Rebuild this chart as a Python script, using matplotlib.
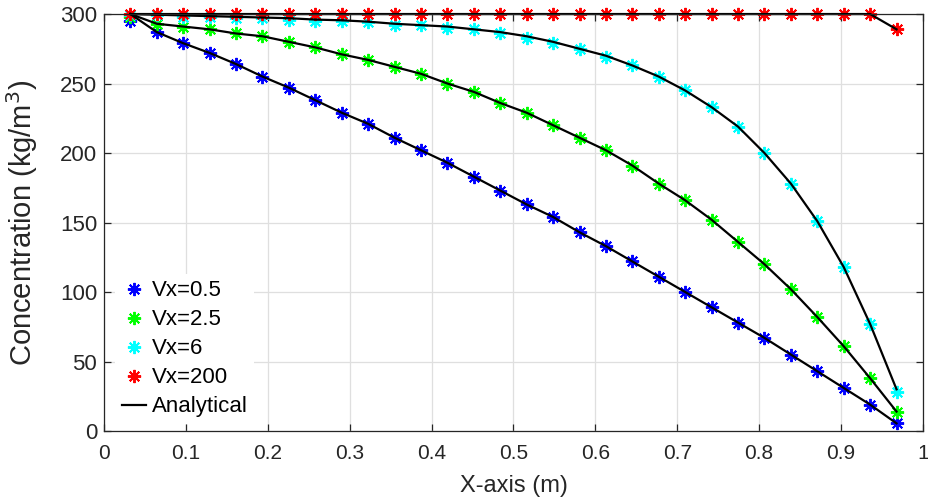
import matplotlib
matplotlib.use("Agg")
import matplotlib.pyplot as plt
import numpy as np

plt.rcParams['font.family'] = ['Liberation Sans', 'DejaVu Sans']

# grid points (30 cells)
x = [1/31, 2/31, 3/31, 4/31, 5/31, 6/31, 7/31, 8/31, 9/31, 10/31,
     11/31, 12/31, 13/31, 14/31, 15/31, 16/31, 17/31, 18/31, 19/31, 20/31,
     21/31, 22/31, 23/31, 24/31, 25/31, 26/31, 27/31, 28/31, 29/31, 30/31]

# numerical results
c_05 = [295, 287, 279, 272, 264, 255, 247, 238, 229, 221,
        211, 202, 193, 183, 173, 163, 154, 143, 133, 122,
        111, 100, 89, 78, 67, 55, 43, 31, 19, 5.5]
c_25 = [298, 293, 291, 289, 286, 284, 280, 276, 271, 267,
        262, 257, 250, 244, 236, 229, 220, 211, 202, 191,
        178, 166, 152, 136, 120, 102, 82, 61, 38, 14]
c_6 = [299, 299, 298, 298, 297, 297, 296, 295, 295, 294,
       292, 292, 290, 289, 286, 283, 279, 275, 269, 263,
       255, 245, 233, 219, 200, 178, 151, 118, 77, 28]
c_200 = [300, 300, 300, 300, 300, 300, 300, 300, 300, 300,
         300, 300, 300, 300, 300, 300, 300, 300, 300, 300,
         300, 300, 300, 300, 300, 300, 300, 300, 300, 289]

# analytical curves
a_05 = [300, 287, 279, 272, 264, 255, 247, 238, 229, 221,
        211, 202, 193, 183, 173, 163, 154, 143, 133, 122,
        111, 100, 89, 78, 67, 55, 43, 31, 19, 5.5]
a_25 = [300, 293, 291, 289, 286, 284, 280, 276, 271, 267,
        262, 257, 250, 244, 236, 229, 220, 211, 202, 191,
        178, 166, 152, 136, 120, 102, 82, 61, 38, 14]
a_6 = [300, 299.5, 299, 298.5, 298, 297.5, 297, 296, 295.5, 294.5,
       293, 292, 291, 289, 287, 284, 280, 275, 270, 263,
       255, 245, 233, 219, 200, 178, 151, 118, 77, 30]
a_200 = c_200

fig = plt.figure(figsize=(9.29, 5.03), dpi=100)
ax = fig.add_axes([0.1119, 0.1431, 0.8816, 0.829])

star = (8, 2, 0)
ms = 9.5
mew = 1.4
ax.plot(x, c_05, linestyle='none', marker=star, ms=ms, mew=mew, color='#0000ff', label='Vx=0.5', clip_on=False)
ax.plot(x, c_25, linestyle='none', marker=star, ms=ms, mew=mew, color='#00ff00', label='Vx=2.5', clip_on=False)
ax.plot(x, c_6, linestyle='none', marker=star, ms=ms, mew=mew, color='#00ffff', label='Vx=6', clip_on=False)
ax.plot(x, c_200, linestyle='none', marker=star, ms=ms, mew=mew, color='#ff0000', label='Vx=200', clip_on=False)

ax.plot(x, a_05, color='k', lw=1.6, label='Analytical', clip_on=False)
ax.plot(x, a_25, color='k', lw=1.6, clip_on=False)
ax.plot(x, a_6, color='k', lw=1.6, clip_on=False)
ax.plot(x, a_200, color='k', lw=1.6, clip_on=False)

ax.set_xlim(0, 1)
ax.set_ylim(0, 300)
ax.set_xticks(np.arange(0, 1.01, 0.1))
ax.set_xticklabels(['0', '0.1', '0.2', '0.3', '0.4', '0.5', '0.6', '0.7', '0.8', '0.9', '1'])
ax.set_yticks(np.arange(0, 301, 50))

ax.grid(True, color='#dfdfdf', lw=0.9)
ax.set_axisbelow(True)
for s in ax.spines.values():
    s.set_color('#262626')
    s.set_linewidth(0.9)
ax.tick_params(direction='in', top=True, right=True, length=5, width=0.9,
               colors='#262626')
ax.tick_params(axis='x', labelsize=15, pad=9)
ax.tick_params(axis='y', labelsize=16, pad=5)

ax.set_xlabel('X-axis (m)', fontsize=17, color='#262626', labelpad=9)
ax.set_ylabel('Concentration (kg/m$^3$)', fontsize=21, color='#262626', labelpad=14)

leg = ax.legend(loc='lower left', bbox_to_anchor=(0.0, -0.01), fontsize=16,
                frameon=True, fancybox=False, handlelength=1.1, handletextpad=0.25,
                labelspacing=0.36, borderpad=0.3)
leg.get_frame().set_edgecolor('none')
leg.get_frame().set_facecolor('white')
leg.get_frame().set_alpha(1)

fig.savefig('out.png', dpi=100)
